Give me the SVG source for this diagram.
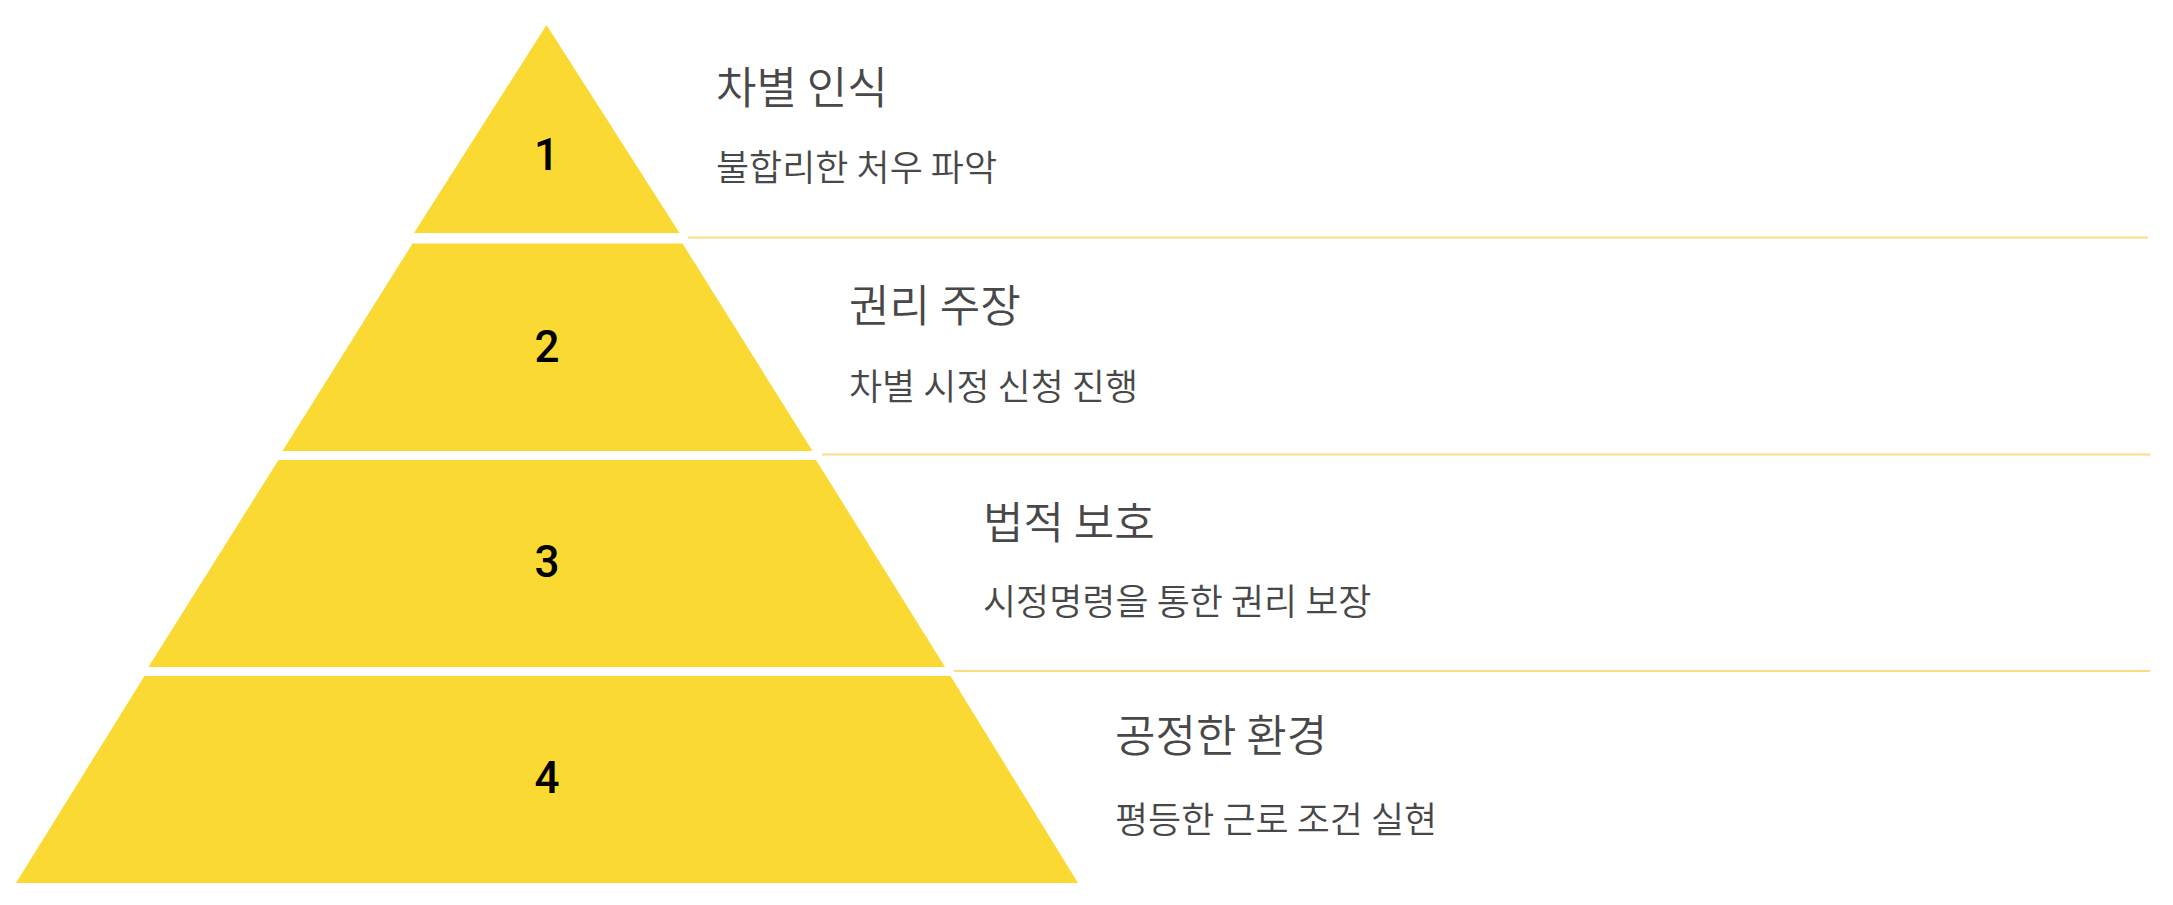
<svg xmlns="http://www.w3.org/2000/svg" width="2173" height="905" viewBox="0 0 2173 905">
  <style>
    .tier { fill: #F9D932; }
    .sep { stroke: #F7DE86; stroke-width: 2; fill: none; }
    .num { font-family: Roboto, Inter, "Liberation Sans", sans-serif; font-weight: 500; font-size: 44px; fill: #000000; text-anchor: middle; }
    .title { font-family: "Noto Sans CJK KR", "Noto Sans", sans-serif; font-weight: 350; font-size: 44px; fill: #484848; }
    .sub { font-family: "Noto Sans CJK KR", "Noto Sans", sans-serif; font-weight: 350; font-size: 36px; fill: #484848; }
  </style>
  <rect width="2173" height="905" fill="#FFFFFF"/>
  <g id="connectors">
    <line class="sep" x1="688" y1="237.5" x2="2148" y2="237.5"/>
    <line class="sep" x1="822" y1="454.5" x2="2150" y2="454.5"/>
    <line class="sep" x1="954" y1="671" x2="2150" y2="671"/>
  </g>
  <g id="tier1">
    <polygon class="tier" points="546.5,25 679.5,233 414,233"/>
    <text class="num" x="546.5" y="170">1</text>
    <text class="title" x="716" y="104">차별 인식</text>
    <text class="sub" x="716" y="181">불합리한 처우 파악</text>
  </g>
  <g id="tier2">
    <polygon class="tier" points="412.5,243.5 682.5,243.5 812.5,451 282.5,451"/>
    <text class="num" x="547" y="362">2</text>
    <text class="title" x="849" y="322">권리 주장</text>
    <text class="sub" x="849" y="399.5">차별 시정 신청 진행</text>
  </g>
  <g id="tier3">
    <polygon class="tier" points="278.5,460 816,460 945,667 148.5,667"/>
    <text class="num" x="547" y="577">3</text>
    <text class="title" x="983" y="538.5">법적 보호</text>
    <text class="sub" x="983" y="614.5">시정명령을 통한 권리 보장</text>
  </g>
  <g id="tier4">
    <polygon class="tier" points="144.5,676 950.5,676 1078,883 16,883"/>
    <text class="num" x="547" y="793">4</text>
    <text class="title" x="1115" y="752">공정한 환경</text>
    <text class="sub" x="1115" y="833">평등한 근로 조건 실현</text>
  </g>
</svg>
